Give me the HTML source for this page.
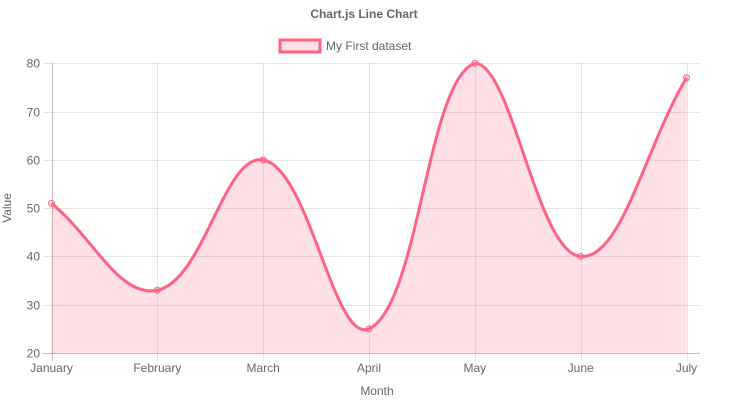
<!DOCTYPE html>
<html><head><style>
body{margin:0;background:#fff;}
svg{display:block;font-family:"Liberation Sans",Arial,sans-serif;}
</style></head><body>
<svg id="c" width="729" height="418" xmlns="http://www.w3.org/2000/svg">
<text x="364" y="18" text-anchor="middle" font-size="12" font-weight="bold" fill="#666">Chart.js Line Chart</text>
<rect x="280" y="40" width="40" height="12" fill="rgba(255,99,132,0.2)" stroke="#ff6384" stroke-width="3"/>
<text x="326" y="50" font-size="12" fill="#666">My First dataset</text>
<g id="grid" stroke="rgba(0,0,0,0.1)" stroke-width="1"></g>
<g id="labels" font-size="12" fill="#666"></g>
<text x="377" y="395" text-anchor="middle" font-size="12" fill="#666">Month</text>
<text transform="translate(11,208) rotate(-90)" text-anchor="middle" font-size="12" fill="#666">Value</text>
<path id="fill" fill="rgba(255,99,132,0.2)" stroke="none"/>
<path id="line" fill="none" stroke="#ff6384" stroke-width="3"/>
<g id="pts"></g>
</svg>
<script>
var ns="http://www.w3.org/2000/svg";
function el(t,a,p,txt){var e=document.createElementNS(ns,t);for(var k in a)e.setAttribute(k,a[k]);if(txt)e.textContent=txt;document.getElementById(p).appendChild(e);}
var L=51.5,R=686.5,T=63.3,B=353;
var months=["January","February","March","April","May","June","July"];
var data=[51,33,60,25,80,40,77];
function X(i){return L+(R-L)*i/6;}
function Y(v){return B-(v-20)/60*(B-T);}
for(var v=20;v<=80;v+=10){var y=Math.round(Y(v))+0.5;
 el("line",{x1:43,x2:700,y1:y,y2:y,stroke:v==20?"rgba(0,0,0,0.25)":"rgba(0,0,0,0.1)"},"grid");
 el("text",{x:40,y:y+4,"text-anchor":"end"},"labels",""+v);}
for(var i=0;i<7;i++){var x=Math.round(X(i))+0.5;
 el("line",{x1:x,x2:x,y1:T,y2:361,stroke:i==0?"rgba(0,0,0,0.25)":"rgba(0,0,0,0.1)"},"grid");
 el("text",{x:X(i),y:372,"text-anchor":"middle"},"labels",months[i]);}
var p=data.map(function(v,i){return {x:X(i),y:Y(v)};});
var t=0.4,cp=[];
for(var i=0;i<7;i++){var pr=p[Math.max(0,i-1)],c=p[i],nx=p[Math.min(6,i+1)];
 var d01=Math.hypot(c.x-pr.x,c.y-pr.y),d12=Math.hypot(nx.x-c.x,nx.y-c.y);
 var s01=d01/(d01+d12)||0,s12=d12/(d01+d12)||0;var fa=t*s01,fb=t*s12;
 var c1={x:c.x-fa*(nx.x-pr.x),y:Math.min(B,Math.max(T,c.y-fa*(nx.y-pr.y)))};
 var c2={x:c.x+fb*(nx.x-pr.x),y:Math.min(B,Math.max(T,c.y+fb*(nx.y-pr.y)))};
 cp.push([c1,c2]);}
var d="M"+p[0].x+","+p[0].y;
for(var i=1;i<7;i++){d+=" C"+cp[i-1][1].x+","+cp[i-1][1].y+" "+cp[i][0].x+","+cp[i][0].y+" "+p[i].x+","+p[i].y;}
document.getElementById("line").setAttribute("d",d);
document.getElementById("fill").setAttribute("d",d+" L"+p[6].x+","+B+" L"+p[0].x+","+B+" Z");
p.forEach(function(q){el("circle",{cx:q.x,cy:q.y,r:3,fill:"rgba(255,99,132,0.2)",stroke:"#ff6384","stroke-width":1},"pts");});
</script>
</body></html>
